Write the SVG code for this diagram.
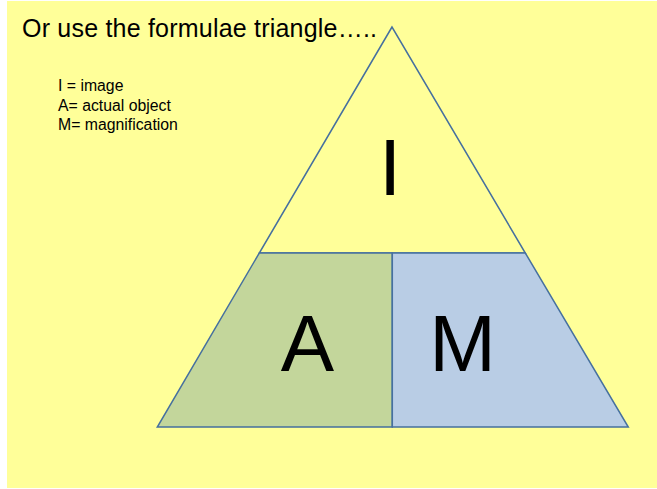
<svg xmlns="http://www.w3.org/2000/svg" width="657" height="489" viewBox="0 0 657 489">
  <style>
    .shape { stroke: #46709F; stroke-width: 1.5; stroke-linejoin: miter; }
    .txt { font-family: "Liberation Sans", Arial, sans-serif; fill: #000; }
    .big { font-size: 80px; text-anchor: middle; }
    .legend { font-size: 15.8px; }
  </style>
  <rect id="background" x="7" y="1" width="650" height="487" fill="#FFFF99"/>
  <text id="title" class="txt" x="22" y="36.7" font-size="25" textLength="355" lengthAdjust="spacing">Or use the formulae triangle…..</text>
  <g id="legend" class="txt legend">
    <text x="58" y="90.7">I = image</text>
    <text x="58" y="110.5">A= actual object</text>
    <text x="58" y="130.3">M= magnification</text>
  </g>
  <g id="node-I">
    <polygon class="shape" points="392,27 259.3,253 525.3,253" fill="#FFFF99"/>
    <text class="txt big" x="390" y="195">I</text>
  </g>
  <g id="node-A">
    <polygon class="shape" points="259.3,253 392.3,253 392.3,427 157.3,427" fill="#C3D69B"/>
    <text class="txt big" x="307.5" y="370.5">A</text>
  </g>
  <g id="node-M">
    <polygon class="shape" points="392.3,253 525.3,253 628.3,427 392.3,427" fill="#B9CDE5"/>
    <text class="txt big" x="462.5" y="370.5">M</text>
  </g>
</svg>
